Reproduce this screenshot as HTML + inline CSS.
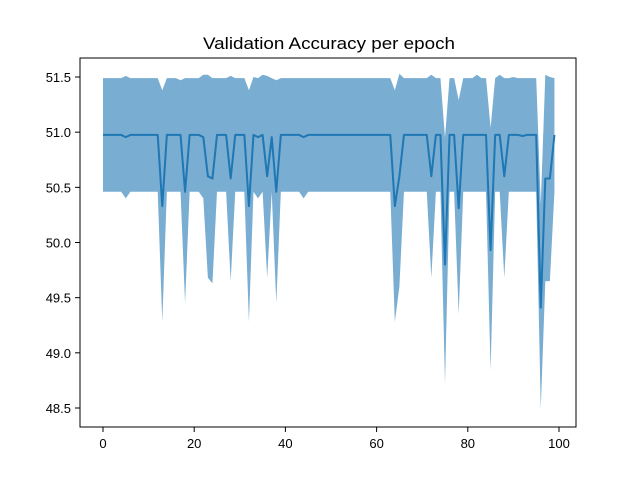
<!DOCTYPE html>
<html><head><meta charset="utf-8"><style>
body{margin:0;background:#fff;}
svg text{font-family:"Liberation Sans",sans-serif;}
</style></head><body>
<svg id="chart" width="640" height="480" viewBox="0 0 640 480">
<rect width="640" height="480" fill="#fff"/>
<text x="329" y="49" text-anchor="middle" font-size="17" textLength="252" lengthAdjust="spacingAndGlyphs" fill="#000">Validation Accuracy per epoch</text>
<g id="plot"></g>
<rect x="80" y="58" width="496" height="369" fill="none" stroke="#000" stroke-width="1"/>
<g id="axes"></g>
</svg>
<script>
const meanVals = [
50.975,50.975,50.975,50.975,50.975,50.955,50.975,50.975,50.975,50.975,
50.975,50.975,50.975,50.33,50.975,50.975,50.975,50.975,50.46,50.975,
50.975,50.975,50.955,50.6,50.58,50.975,50.975,50.975,50.58,50.975,
50.975,50.975,50.33,50.975,50.955,50.975,50.6,50.955,50.46,50.975,
50.975,50.975,50.975,50.975,50.955,50.975,50.975,50.975,50.975,50.975,
50.975,50.975,50.975,50.975,50.975,50.975,50.975,50.975,50.975,50.975,
50.975,50.975,50.975,50.975,50.33,50.6,50.975,50.975,50.975,50.975,
50.975,50.975,50.6,50.975,50.975,49.8,50.975,50.975,50.31,50.975,
50.975,50.975,50.975,50.975,50.975,49.93,50.975,50.975,50.6,50.975,
50.975,50.975,50.965,50.975,50.975,50.975,49.41,50.58,50.58,50.975];
const lowerVals = [
50.46,50.46,50.46,50.46,50.46,50.40,50.46,50.46,50.46,50.46,
50.46,50.46,50.46,49.28,50.46,50.46,50.46,50.46,49.45,50.46,
50.46,50.46,50.40,49.68,49.63,50.46,50.46,50.46,49.65,50.46,
50.46,50.46,49.28,50.46,50.40,50.46,49.68,50.46,49.45,50.46,
50.46,50.46,50.46,50.46,50.40,50.46,50.46,50.46,50.46,50.46,
50.46,50.46,50.46,50.46,50.46,50.46,50.46,50.46,50.46,50.46,
50.46,50.46,50.46,50.46,49.28,49.6,50.46,50.46,50.46,50.46,
50.46,50.46,49.68,50.46,50.46,48.72,50.46,50.46,49.35,50.46,
50.46,50.46,50.46,50.46,50.46,48.84,50.46,50.46,49.68,50.46,
50.46,50.46,50.46,50.46,50.46,50.46,48.49,49.65,49.65,50.46];
const upperVals = [
51.49,51.49,51.49,51.49,51.49,51.51,51.49,51.49,51.49,51.49,
51.49,51.49,51.49,51.38,51.49,51.49,51.49,51.47,51.49,51.49,
51.49,51.49,51.52,51.52,51.49,51.49,51.49,51.49,51.51,51.49,
51.49,51.49,51.38,51.5,51.49,51.52,51.51,51.49,51.47,51.49,
51.49,51.49,51.49,51.49,51.49,51.49,51.49,51.49,51.49,51.49,
51.49,51.49,51.49,51.49,51.49,51.49,51.49,51.49,51.49,51.49,
51.49,51.49,51.49,51.49,51.38,51.53,51.49,51.49,51.49,51.49,
51.49,51.49,51.52,51.49,51.49,50.95,51.49,51.49,51.29,51.49,
51.49,51.49,51.52,51.49,51.49,51.04,51.49,51.52,51.49,51.49,
51.5,51.49,51.49,51.49,51.49,51.49,50.35,51.52,51.5,51.49];
const xTicks = [0,20,40,60,80,100];
const yTicks = [48.5,49.0,49.5,50.0,50.5,51.0,51.5];

const NS = "http://www.w3.org/2000/svg";
function sx(v){return 103 + (v-0)*4.56;}
function sy(v){return 77 + (51.5-v)*110.33;}
const plot = document.getElementById('plot');
const axes = document.getElementById('axes');

let pts = [];
for(let i=0;i<upperVals.length;i++) pts.push(sx(i)+','+sy(upperVals[i]));
for(let i=lowerVals.length-1;i>=0;i--) pts.push(sx(i)+','+sy(lowerVals[i]));
const band = document.createElementNS(NS,'polygon');
band.setAttribute('points', pts.join(' '));
band.setAttribute('fill','#1f77b4');
band.setAttribute('fill-opacity','0.6');


plot.appendChild(band);

const line = document.createElementNS(NS,'polyline');
line.setAttribute('points', meanVals.map((v,i)=>sx(i)+','+sy(v)).join(' '));
line.setAttribute('fill','none');
line.setAttribute('stroke','#1f77b4');
line.setAttribute('stroke-width','2');
line.setAttribute('stroke-linejoin','round');


plot.appendChild(line);

xTicks.forEach(t=>{
  const x = sx(t);
  const tk = document.createElementNS(NS,'line');
  tk.setAttribute('x1',x);tk.setAttribute('x2',x);tk.setAttribute('y1',427);tk.setAttribute('y2',432);
  tk.setAttribute('stroke','#000');
  
  
  axes.appendChild(tk);
  const tx = document.createElementNS(NS,'text');
  tx.setAttribute('x',x);tx.setAttribute('y',448);tx.setAttribute('text-anchor','middle');tx.setAttribute('font-size','13');
  tx.textContent = t;
  
  
  axes.appendChild(tx);
});
yTicks.forEach(t=>{
  const y = sy(t);
  const tk = document.createElementNS(NS,'line');
  tk.setAttribute('x1',75);tk.setAttribute('x2',80);tk.setAttribute('y1',y);tk.setAttribute('y2',y);
  tk.setAttribute('stroke','#000');
  
  
  axes.appendChild(tk);
  const tx = document.createElementNS(NS,'text');
  tx.setAttribute('x',71);tx.setAttribute('y',y+5);tx.setAttribute('text-anchor','end');tx.setAttribute('font-size','13');
  tx.textContent = t.toFixed(1);
  
  
  axes.appendChild(tx);
});
</script>
</body></html>
